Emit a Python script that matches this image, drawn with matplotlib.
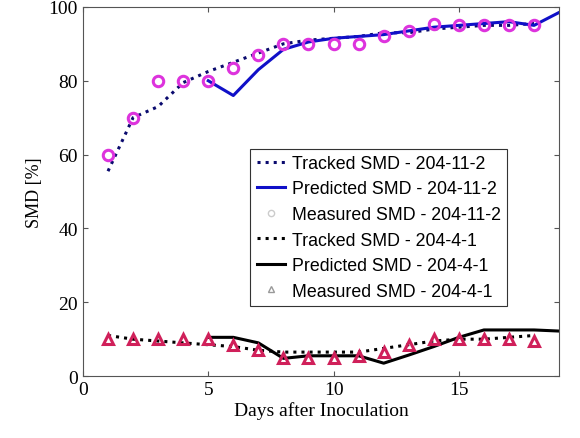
import matplotlib
matplotlib.use("Agg")
import matplotlib.pyplot as plt

days = list(range(1, 19))
days_pred = list(range(5, 20))

tracked_11 = [55.5, 70, 73, 79.5, 82.5, 85, 87.5, 90, 91, 91.5, 92, 93, 93, 94, 94.5, 95, 95, 95.5]
pred_11 = [80, 76, 83, 88.5, 90.5, 91.5, 92, 92.5, 93.5, 94.5, 95, 95.5, 96, 95, 98.5]
meas_11 = [60, 70, 80, 80, 80, 83.5, 87, 90, 90, 90, 90, 92, 93.5, 95.5, 95, 95, 95, 95]

tracked_4 = [11, 10, 9.5, 9, 8.5, 8, 7, 6.5, 6.5, 6.5, 6.5, 7.5, 8.5, 9.5, 10, 10, 10.5, 11]
pred_4 = [10.5, 10.5, 9, 4.8, 5.5, 5.5, 5.5, 3.5, 5.7, 8, 10.5, 12.5, 12.5, 12.5, 12.2]
meas_4 = [10, 10, 10, 10, 10, 8.5, 7, 5, 5, 5, 5.5, 6.5, 8.5, 10, 10, 10, 10, 9.5]

labels = ["Tracked SMD - 204-11-2", "Predicted SMD - 204-11-2", "Measured SMD - 204-11-2",
          "Tracked SMD - 204-4-1", "Predicted SMD - 204-4-1", "Measured SMD - 204-4-1"]

fig = plt.figure(figsize=(5.8, 4.39), dpi=100)
ax = fig.add_axes([0.143, 0.141, 0.821, 0.841])

ax.plot(days, tracked_11, ':', color='#0a0a6e', lw=2.2, label=labels[0])
ax.plot(days_pred, pred_11, '-', color='#1010c8', lw=2.2, label=labels[1])
ax.plot(days, meas_11, 'o', ms=7.5, mfc='none', mec='#dd33dd', mew=2.2, label=labels[2])
ax.plot(days, tracked_4, ':', color='black', lw=2.2, label=labels[3])
ax.plot(days_pred, pred_4, '-', color='black', lw=2.2, label=labels[4])
ax.plot(days, meas_4, '^', ms=6.5, mfc='none', mec='#d0205a', mew=2.2, label=labels[5])

ax.set_xlim(0, 19)
ax.set_ylim(0, 100)
ax.set_xticks([0, 5, 10, 15])
ax.set_yticks([0, 20, 40, 60, 80, 100])
ax.tick_params(direction='in', top=True, right=True, labelsize=14, color='#555555')
for lab in ax.get_xticklabels() + ax.get_yticklabels():
    lab.set_fontfamily('Liberation Serif')
for s in ax.spines.values():
    s.set_color('#555555')
    s.set_linewidth(0.8)

ax.set_xlabel('Days after Inoculation', fontsize=14, family='Liberation Serif', labelpad=2)
ax.set_ylabel('SMD [%]', fontsize=13, family='Liberation Serif', labelpad=4)

leg = ax.legend(loc='upper left', bbox_to_anchor=(0.333, 0.64), prop={'family': 'Liberation Sans', 'size': 12.8},
                frameon=True, fancybox=False, edgecolor='#333333', framealpha=1,
                handlelength=1.6, handletextpad=0.4, labelspacing=0.48, borderpad=0.35,
                markerscale=0.6)
leg.get_frame().set_linewidth(0.8)
hs = leg.legend_handles
hs[2].set_markeredgecolor('#cccccc'); hs[2].set_markeredgewidth(1)
hs[5].set_markeredgecolor('#999999'); hs[5].set_markeredgewidth(1)

fig.savefig('out.png', dpi=100)
